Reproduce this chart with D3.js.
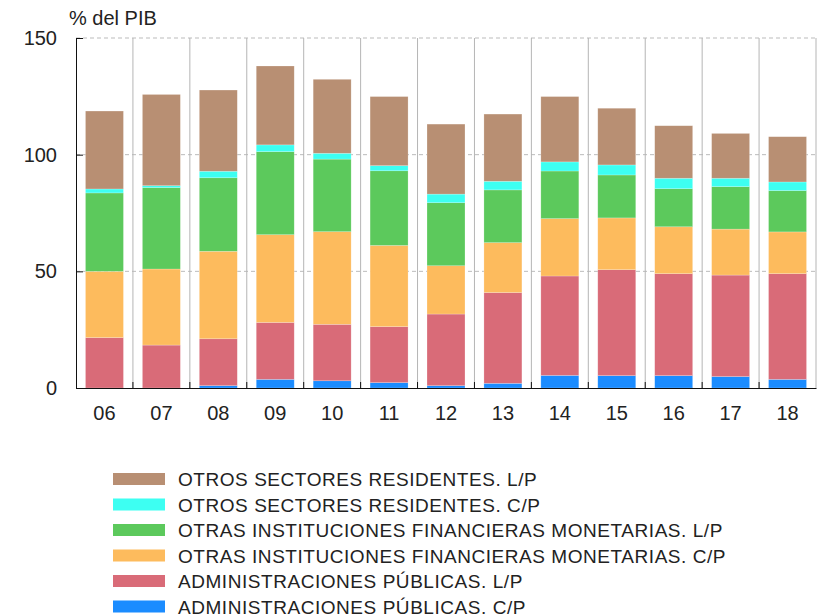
<!DOCTYPE html>
<html>
<head>
<meta charset="utf-8">
<script src="https://cdn.jsdelivr.net/npm/d3@7"></script>
<style>
  body { margin: 0; background: #fff; }
  text { font-family: "Liberation Sans", Arial, sans-serif; fill: #222; }
</style>
</head>
<body>
<div id="chart"></div>
<script>
// Data (% del PIB)
let years = ["06", "07", "08", "09", "10", "11", "12", "13", "14", "15", "16", "17", "18"];
let admCP = [0, 0, 1.0, 3.7, 3.1, 2.3, 1.0, 2.0, 5.4, 5.3, 5.3, 4.9, 3.7];
let admLP = [21.6, 18.4, 20.1, 24.4, 24.2, 24.0, 30.7, 38.9, 42.6, 45.4, 43.7, 43.5, 45.3];
let ifmCP = [28.4, 32.6, 37.5, 37.6, 39.7, 34.8, 20.7, 21.4, 24.6, 22.2, 20.1, 19.7, 17.9];
let ifmLP = [33.6, 34.9, 31.5, 35.6, 31.1, 32.0, 27.0, 22.6, 20.4, 18.4, 16.3, 18.2, 17.7];
let osrCP = [1.7, 0.8, 2.8, 2.9, 2.5, 2.2, 3.7, 3.7, 3.9, 4.3, 4.5, 3.6, 3.7];
let osrLP = [33.4, 39.1, 34.8, 33.8, 31.7, 29.6, 30.0, 28.8, 28.0, 24.3, 22.5, 19.2, 19.4];
let yTicks = [0, 50, 100, 150];

let seriesKeys = ["admCP", "admLP", "ifmCP", "ifmLP", "osrCP", "osrLP"];
let seriesNames = {
  admCP: "ADMINISTRACIONES PÚBLICAS. C/P",
  admLP: "ADMINISTRACIONES PÚBLICAS. L/P",
  ifmCP: "OTRAS INSTITUCIONES FINANCIERAS MONETARIAS. C/P",
  ifmLP: "OTRAS INSTITUCIONES FINANCIERAS MONETARIAS. L/P",
  osrCP: "OTROS SECTORES RESIDENTES. C/P",
  osrLP: "OTROS SECTORES RESIDENTES. L/P"
};
let colors = {
  admCP: "#1b8cff",
  admLP: "#d96b78",
  ifmCP: "#fdbb5d",
  ifmLP: "#5cc95c",
  osrCP: "#3dfff2",
  osrLP: "#b88f73"
};

let table = years.map((y, i) => ({
  year: y,
  admCP: admCP[i], admLP: admLP[i], ifmCP: ifmCP[i],
  ifmLP: ifmLP[i], osrCP: osrCP[i], osrLP: osrLP[i]
}));

// SVG dimensions
let svgWidth = 819;
let svgHeight = 616;
let margin = { top: 38, right: 3, bottom: 228, left: 76 };
let width = svgWidth - margin.left - margin.right;
let height = svgHeight - margin.top - margin.bottom;

let svg = d3.select("#chart")
  .append("svg")
  .attr("width", svgWidth)
  .attr("height", svgHeight);

let chartGroup = svg.append("g")
  .attr("transform", `translate(${margin.left}, ${margin.top})`);

// Scales
let x = d3.scaleBand()
  .domain(years)
  .range([0, width])
  .paddingInner(0.333)
  .paddingOuter(0.1665);

let y = d3.scaleLinear()
  .domain([0, 150])
  .range([height, 0]);

let step = x.step();
// right edge of each category band
let bandEnd = d => x(d) + x.bandwidth() / 2 + step / 2;

// Horizontal dashed gridlines
chartGroup.append("g")
  .selectAll("line")
  .data(yTicks.filter(t => t > 0))
  .enter()
  .append("line")
  .attr("x1", 0)
  .attr("x2", width)
  .attr("y1", d => y(d))
  .attr("y2", d => y(d))
  .attr("stroke", "#bbb")
  .attr("stroke-width", 1)
  .attr("stroke-dasharray", "4,3");

// Vertical gridlines at category boundaries
chartGroup.append("g")
  .selectAll("line")
  .data(years)
  .enter()
  .append("line")
  .attr("x1", bandEnd)
  .attr("x2", bandEnd)
  .attr("y1", 0)
  .attr("y2", height)
  .attr("stroke", "#b5b5b5")
  .attr("stroke-width", 1);

// Stacked bars
let stacked = d3.stack().keys(seriesKeys)(table);

chartGroup.append("g")
  .selectAll("g")
  .data(stacked)
  .enter()
  .append("g")
  .attr("fill", d => colors[d.key])
  .selectAll("rect")
  .data(d => d)
  .enter()
  .append("rect")
  .attr("x", d => x(d.data.year))
  .attr("width", x.bandwidth())
  .attr("y", d => y(d[1]))
  .attr("height", d => Math.max(0, y(d[0]) - y(d[1])))
  .attr("stroke", "rgba(255,255,255,0.35)")
  .attr("stroke-width", 0.6);

// Y axis
let leftAxis = d3.axisLeft(y)
  .tickValues(yTicks)
  .tickSizeInner(-7)
  .tickSizeOuter(0)
  .tickPadding(19);

let yAxis = chartGroup.append("g")
  .call(leftAxis);
yAxis.select(".domain").attr("stroke", "#111");
yAxis.selectAll(".tick line").attr("stroke", "#111");
yAxis.selectAll(".tick text")
  .attr("font-size", 20)
  .attr("font-family", "Liberation Sans, Arial, sans-serif")
  .attr("fill", "#222");

// X axis
let bottomAxis = d3.axisBottom(x)
  .tickSize(0)
  .tickPadding(18);

let xAxis = chartGroup.append("g")
  .attr("transform", `translate(0, ${height})`)
  .call(bottomAxis);
xAxis.select(".domain").attr("stroke", "#111");
xAxis.selectAll(".tick text")
  .attr("font-size", 20)
  .attr("font-family", "Liberation Sans, Arial, sans-serif")
  .attr("fill", "#222");

// small tick marks on x axis at boundaries
chartGroup.append("g")
  .selectAll("line")
  .data(years.slice(0, -1))
  .enter()
  .append("line")
  .attr("x1", bandEnd)
  .attr("x2", bandEnd)
  .attr("y1", height)
  .attr("y2", height - 6)
  .attr("stroke", "#111");

// Y unit label
svg.append("text")
  .attr("x", 69)
  .attr("y", 25)
  .attr("font-size", 20)
  .text("% del PIB");

// Legend
let legendKeys = seriesKeys.slice().reverse();
let legend = svg.append("g")
  .attr("transform", "translate(113, 479)");

let legendRows = legend.selectAll("g")
  .data(legendKeys)
  .enter()
  .append("g")
  .attr("transform", (d, i) => `translate(0, ${i * 25.5})`);

legendRows.append("rect")
  .attr("x", 0)
  .attr("y", -6)
  .attr("width", 52)
  .attr("height", 12)
  .attr("fill", d => colors[d]);

legendRows.append("text")
  .attr("x", 65)
  .attr("y", 7)
  .attr("font-size", 19)
  .attr("letter-spacing", 0.55)
  .text(d => seriesNames[d]);
</script>
</body>
</html>
